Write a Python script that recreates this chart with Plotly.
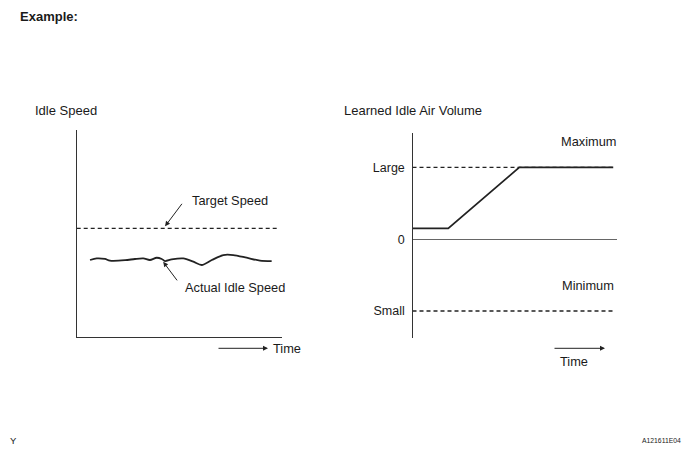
import plotly.graph_objects as go

W, H = 688, 454

# ---- data: Idle Speed (left) ----
time_actual = [6.5, 9.8, 13.8, 16.2, 23.6, 28.4, 32.5, 35.7, 39.0, 41.5, 43.1, 46.3,
               52.0, 56.9, 61.0, 65.9, 71.5, 76.4, 82.9, 89.4, 95.1]
actual_speed = [37.1, 37.9, 37.6, 36.8, 37.0, 37.6, 37.9, 37.1, 38.2, 37.6, 36.6, 37.4,
                37.9, 36.3, 34.7, 37.1, 39.5, 39.5, 38.2, 36.8, 36.6]
time_target = [0, 98.2]
target_speed = [52.4, 52.4]

# ---- data: Learned Idle Air Volume (right) ----
time_learned = [0, 17.5, 52.3, 98.3]
learned_volume = [0.15, 0.15, 1.0, 1.0]
time_limits = [0, 98.2]
large_level = [1, 1]
small_level = [-1, -1]
vol_tickvals = [1, 0, -1]
vol_ticktext = ["Large", "0", "Small"]

FONT = "Liberation Sans, Arial, sans-serif"
TXT = "#1a1a1a"
LINE = "#222222"


def px(x):
    return x / W


def py(y):
    return 1 - y / H


fig = go.Figure()

# Left chart traces
fig.add_trace(go.Scatter(x=time_target, y=target_speed, mode="lines",
                         line=dict(color=LINE, width=1.3, dash="4px,3px"),
                         xaxis="x", yaxis="y", hoverinfo="skip"))
fig.add_trace(go.Scatter(x=time_actual, y=actual_speed, mode="lines",
                         line=dict(color=LINE, width=1.8, shape="spline", smoothing=0.8),
                         xaxis="x", yaxis="y", hoverinfo="skip"))

# Right chart traces
fig.add_trace(go.Scatter(x=time_limits, y=large_level, mode="lines",
                         line=dict(color=LINE, width=1.3, dash="4px,3px"),
                         xaxis="x2", yaxis="y2", hoverinfo="skip"))
fig.add_trace(go.Scatter(x=time_limits, y=small_level, mode="lines",
                         line=dict(color=LINE, width=1.3, dash="4px,3px"),
                         xaxis="x2", yaxis="y2", hoverinfo="skip"))
fig.add_trace(go.Scatter(x=time_learned, y=learned_volume, mode="lines",
                         line=dict(color=LINE, width=1.8),
                         xaxis="x2", yaxis="y2", hoverinfo="skip"))

# Axes (domains chosen in pixel terms)
L_x0, L_x1, L_ytop, L_ybot = 76.7, 281.7, 130.0, 336.7
R_x0, R_x1, R_ytop, R_ybot = 412.5, 616.7, 133.3, 338.3

fig.update_layout(
    width=W, height=H,
    margin=dict(l=0, r=0, t=0, b=0),
    paper_bgcolor="white", plot_bgcolor="white",
    showlegend=False,
    font=dict(family=FONT, size=13, color=TXT),
    xaxis=dict(domain=[px(L_x0), px(L_x1)], range=[0, 100], showline=True,
               linecolor="#333333", linewidth=1.4, showgrid=False, zeroline=False,
               showticklabels=False, ticks="", fixedrange=True),
    yaxis=dict(domain=[py(L_ybot), py(L_ytop)], range=[0, 100], showline=True,
               linecolor="#333333", linewidth=1.4, showgrid=False, zeroline=False,
               showticklabels=False, ticks="", fixedrange=True),
    xaxis2=dict(domain=[px(R_x0), px(R_x1)], range=[0, 100], anchor="y2", showline=False,
                showgrid=False, zeroline=False, showticklabels=False, ticks="",
                fixedrange=True),
    yaxis2=dict(domain=[py(R_ybot), py(R_ytop)], range=[-1.38, 1.475], anchor="x2",
                showline=True, linecolor="#333333", linewidth=1.4, showgrid=False,
                zeroline=True, zerolinecolor="#666666", zerolinewidth=1.2,
                tickvals=vol_tickvals, ticktext=vol_ticktext, ticks="",
                ticklabelstandoff=4, tickfont=dict(family=FONT, size=12.5, color=TXT),
                fixedrange=True),
)

ann = []


def text(x, y, s, size=12.8, xanchor="left", bold=False):
    ann.append(dict(xref="paper", yref="paper", x=px(x), y=py(y), text=(f"<b>{s}</b>" if bold else s),
                    showarrow=False, xanchor=xanchor, yanchor="middle",
                    font=dict(family=FONT, size=size, color=TXT)))


text(18, 16, "Example:", size=13, bold=True)
text(33, 110, "Idle Speed", size=13)
text(342, 110, "Learned Idle Air Volume", size=13)
text(190, 200.5, "Target Speed")
text(183, 287.5, "Actual Idle Speed")
text(271, 348.5, "Time")
text(588, 141.7, "Maximum", xanchor="center")
text(588, 285.7, "Minimum", xanchor="center")
text(573.5, 361.7, "Time", xanchor="center")
text(8, 440, "Y", size=9.5)
text(640, 440, "A121611E04", size=6.8)

# Pointer arrows (data-anchored tips)
ann.append(dict(xref="x", yref="y", x=43.1, y=53.4, ax=18, ay=-24, text="",
                showarrow=True, arrowhead=2, arrowsize=1.0, arrowwidth=1.0,
                arrowcolor=LINE))
ann.append(dict(xref="x", yref="y", x=42.2, y=36.2, ax=15, ay=20, text="",
                showarrow=True, arrowhead=2, arrowsize=1.0, arrowwidth=1.0,
                arrowcolor=LINE))
# Time arrows
ann.append(dict(xref="paper", yref="paper", x=px(268), y=py(348.3), ax=-51, ay=0, text="",
                showarrow=True, arrowhead=2, arrowsize=1.0, arrowwidth=1.0,
                arrowcolor=LINE))
ann.append(dict(xref="paper", yref="paper", x=px(605), y=py(348.3), ax=-52, ay=0, text="",
                showarrow=True, arrowhead=2, arrowsize=1.0, arrowwidth=1.0,
                arrowcolor=LINE))

fig.update_layout(annotations=ann)

fig.write_html(
    "out.html",
    config={"displayModeBar": False},
    post_script="document.body.style.margin='0';document.body.style.overflow='hidden';",
)
